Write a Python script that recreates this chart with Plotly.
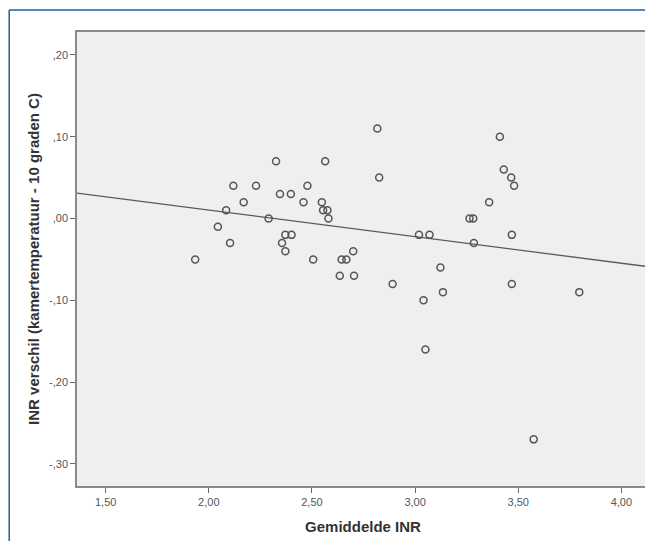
import numpy as np
import plotly.graph_objects as go

# Data
gemiddelde_inr = [2.326, 2.564, 2.119, 2.229, 2.478, 2.345, 2.398, 2.169, 2.459, 2.548,
                  2.084, 2.554, 2.575, 2.580, 2.290, 2.044, 2.371, 2.401, 2.355, 2.103,
                  2.371, 2.700, 1.934, 2.506, 2.644, 2.667, 2.635, 2.704, 2.817, 3.411,
                  2.826, 3.430, 3.466, 3.480, 3.359, 3.264, 3.282, 3.019, 3.070, 3.469,
                  3.285, 3.123, 2.891, 3.469, 3.135, 3.796, 3.041, 3.050, 3.575]
inr_verschil = [0.07, 0.07, 0.04, 0.04, 0.04, 0.03, 0.03, 0.02, 0.02, 0.02,
                0.01, 0.01, 0.01, 0.00, 0.00, -0.01, -0.02, -0.02, -0.03, -0.03,
                -0.04, -0.04, -0.05, -0.05, -0.05, -0.05, -0.07, -0.07, 0.11, 0.10,
                0.05, 0.06, 0.05, 0.04, 0.02, 0.00, 0.00, -0.02, -0.02, -0.02,
                -0.03, -0.06, -0.08, -0.08, -0.09, -0.09, -0.10, -0.16, -0.27]

x_tickvals = [1.5, 2.0, 2.5, 3.0, 3.5, 4.0]
x_ticktext = ["1,50", "2,00", "2,50", "3,00", "3,50", "4,00"]
y_tickvals = [0.2, 0.1, 0.0, -0.1, -0.2, -0.3]
y_ticktext = [",20", ",10", ",00", "-,10", "-,20", "-,30"]

x_range = [1.361, 4.134]
y_range = [-0.327, 0.228]

# Linear fit computed from the data
slope, intercept = np.polyfit(gemiddelde_inr, inr_verschil, 1)
fit_x = np.array(x_range)
fit_y = intercept + slope * fit_x

FONT = "Liberation Sans, Arial, sans-serif"

fig = go.Figure()
fig.add_trace(go.Scatter(
    x=fit_x, y=fit_y, mode="lines",
    line=dict(color="#5a5a5a", width=1.3),
    hoverinfo="skip", showlegend=False,
))
fig.add_trace(go.Scatter(
    x=gemiddelde_inr, y=inr_verschil, mode="markers",
    marker=dict(symbol="circle-open", size=7, color="#555555",
                line=dict(color="#555555", width=1.5)),
    showlegend=False,
))

fig.update_layout(
    width=645, height=533, autosize=False,
    margin=dict(l=69, r=2, t=24, b=55),
    paper_bgcolor="white",
    plot_bgcolor="#efefef",
    font=dict(family=FONT, size=11, color="#444444"),
    xaxis=dict(
        range=x_range, tickvals=x_tickvals, ticktext=x_ticktext,
        showgrid=False, zeroline=False,
        showline=True, mirror=True, linecolor="#8a8a8a", linewidth=1.5,
        ticks="outside", ticklen=5, tickwidth=1.2, tickcolor="#666666",
        tickfont=dict(family=FONT, size=11, color="#555555"),
        title=dict(text="<b>Gemiddelde INR</b>", standoff=15,
                   font=dict(family=FONT, size=15, color="#333333")),
    ),
    yaxis=dict(
        range=y_range, tickvals=y_tickvals, ticktext=y_ticktext,
        showgrid=False, zeroline=False,
        showline=True, mirror=True, linecolor="#8a8a8a", linewidth=1.5,
        ticks="outside", ticklen=5, tickwidth=1.2, tickcolor="#666666",
        tickfont=dict(family=FONT, size=11, color="#555555"),
        title=dict(text="<b>INR verschil (kamertemperatuur - 10 graden C)</b>", standoff=6,
                   font=dict(family=FONT, size=15, color="#333333")),
    ),
    shapes=[
        dict(type="line", xref="paper", yref="paper",
             x0=-0.1185, x1=1.2, y0=1.0485, y1=1.0485,
             line=dict(color="#1f5ea8", width=1.5)),
        dict(type="line", xref="paper", yref="paper",
             x0=-0.1185, x1=-0.1185, y0=1.0485, y1=-0.2,
             line=dict(color="#1f5ea8", width=1.5)),
    ],
)

fig.write_html("out.html")
